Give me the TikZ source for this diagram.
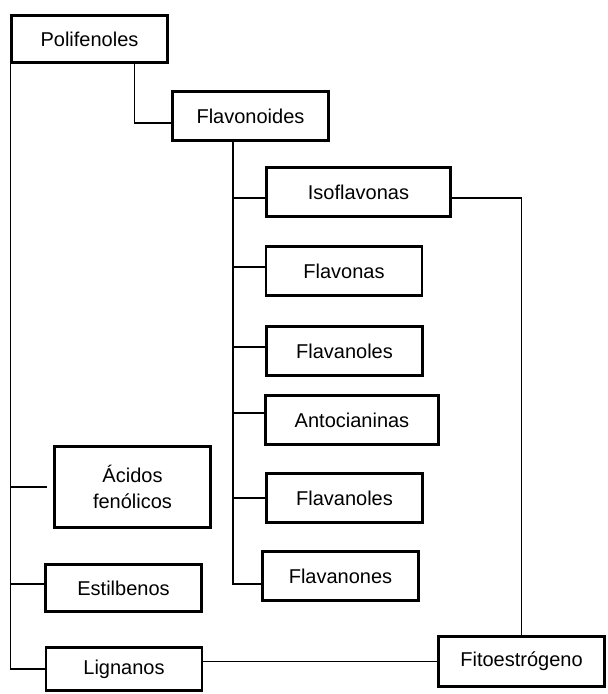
\documentclass[tikz,border=0pt]{standalone}
\usepackage{fontspec}
\setmainfont{Liberation Sans}
\usepackage{tikz}
\usetikzlibrary{positioning, calc}

\begin{document}
\begin{tikzpicture}[
    x=1pt, y=-1pt,
    % Styles
    group/.style={rectangle, draw=black, fill=white, line width=2.8pt, minimum width=156pt, minimum height=49pt, align=center, inner sep=0pt, font=\fontsize{20}{26}\selectfont},
    link/.style={line width=1.1pt, draw=black}
]
    \useasboundingbox (0,0) rectangle (608,694);

    % --- Top levels ---
    \node[group, minimum height=47pt] (poli) at (89.5, 39) {Polifenoles};
    \node[group] (flavo) at (250.5, 116) {Flavonoides};

    % --- Flavonoid subclasses ---
    \node[group, minimum width=184pt] (iso) at (358.5, 192) {Isoflavonas};
    \node[group] (flavonas) at (344, 271) {Flavonas};
    \node[group] (flavanoles) at (344.5, 351) {Flavanoles};
    \node[group, minimum width=173pt] (antoc) at (352, 420) {Antocianinas};
    \node[group] (flavanolesb) at (344.5, 498) {Flavanoles};
    \node[group] (flavanones) at (340.5, 576) {Flavanones};

    % --- Other polyphenols ---
    \node[group, minimum height=81pt] (acidos) at (132.5, 487) {Ácidos\\fenólicos};
    \node[group, minimum height=47pt] (estil) at (123.5, 588) {Estilbenos};
    \node[group, minimum height=43pt] (lign) at (124, 669) {Lignanos};
    \node[group, minimum width=166pt, minimum height=50pt] (fito) at (521.5, 661.5) {Fitoestrógeno};

    % Polifenoles -> Flavonoides
    \draw[link] ([xshift=-34pt]poli.south east) |- ([yshift=-7pt]flavo.west);

    % Left trunk
    \draw[link] (poli.south west) |- (lign.west);
    \draw[link, shorten >=6pt] (poli.south west |- acidos.west) -- (acidos.west);
    \coordinate (bestil) at ([yshift=4pt]estil.west);
    \draw[link] (bestil) -- (bestil -| poli.south west);

    % Flavonoid trunk
    \coordinate (ftrunk) at ([xshift=-17.5pt]flavo.south);
    \draw[link] (ftrunk) |- ([yshift=-8pt]flavanones.west);
    \foreach \n/\dy in {iso/-6, flavonas/4, flavanoles/4, antoc/7, flavanolesb/0}{
        \coordinate (b\n) at ([yshift=\dy pt]\n.west);
        \draw[link] (b\n) -- (b\n -| ftrunk);
    }

    % Links to Fitoestrógeno
    \draw[link] ([yshift=-6pt]iso.east) -| (fito.north);
    \draw[link] (fito.west) -- (fito.west -| lign.east);

\end{tikzpicture}
\end{document}
